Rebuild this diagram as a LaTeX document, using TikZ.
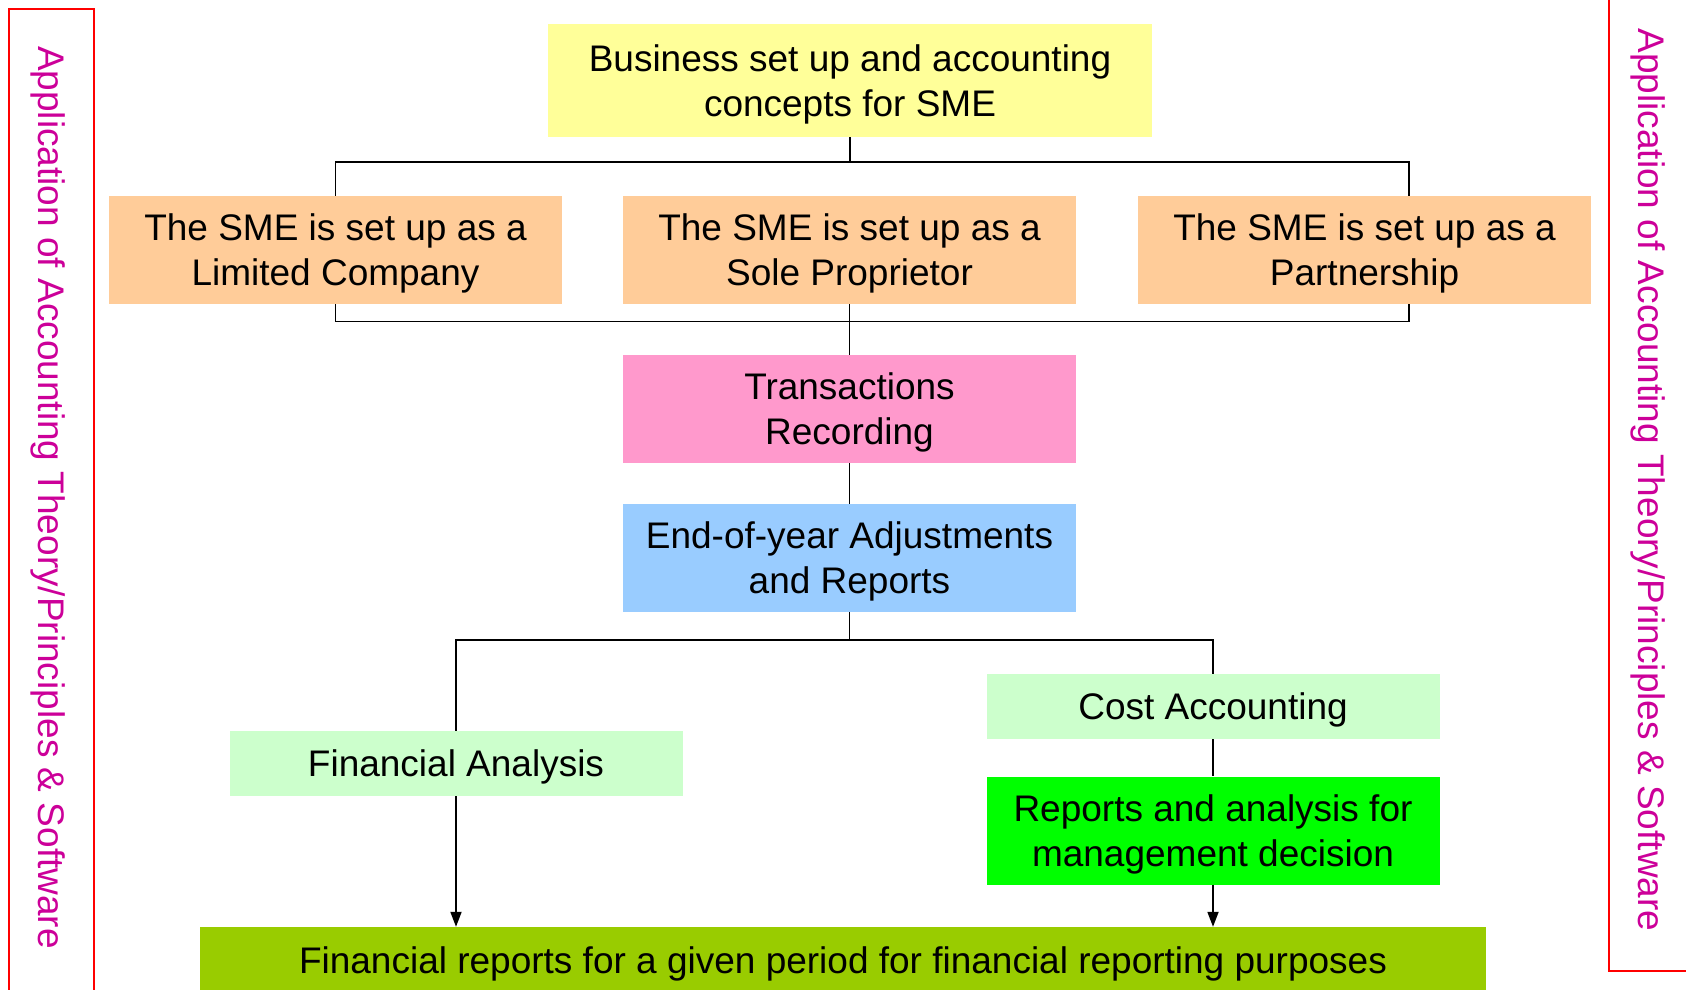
\documentclass[tikz,border=0pt]{standalone}
\usepackage{fontspec}
\setmainfont{Liberation Sans}
\usetikzlibrary{arrows.meta}
\definecolor{boxyellow}{HTML}{FFFF99}
\definecolor{boxorange}{HTML}{FFCC99}
\definecolor{boxpink}{HTML}{FF99CC}
\definecolor{boxblue}{HTML}{99CCFF}
\definecolor{boxpale}{HTML}{CCFFCC}
\definecolor{boxgreen}{HTML}{00FF00}
\definecolor{boxolive}{HTML}{99CC00}
\definecolor{sidetext}{HTML}{CC0099}

\begin{document}
\begin{tikzpicture}[x=1pt,y=-1pt,
		box/.style={inner sep=0pt,align=center,minimum width=453pt,minimum height=108pt,font=\fontsize{37}{45}\selectfont,execute at begin node={\rule{0pt}{34pt}}},
		twoline/.style={box,execute at begin node={\rule{0pt}{79pt}}},
		thinbox/.style={box,minimum height=65pt},
		link/.style={line width=1.8pt},
		arrowlink/.style={link,-{Triangle[length=15pt,width=11pt]}},
		side/.style={text=sidetext,font=\fontsize{37}{45}\selectfont,rotate=-90,inner sep=0pt},
		frame/.style={draw=red,line width=2.5pt}]
				\useasboundingbox (0,0) rectangle (1686,989);
				
				\node[twoline,fill=boxyellow,minimum width=604pt,minimum height=113pt] (concepts) at (850,80.5) {Business set up and accounting\\concepts for SME};
				\node[twoline,fill=boxorange] (limited) at (335.5,250) {The SME is set up as a\\Limited Company};
				\node[twoline,fill=boxorange] (sole) at (849.5,250) {The SME is set up as a\\Sole Proprietor};
				\node[twoline,fill=boxorange] (partner) at (1364.5,250) {The SME is set up as a\\Partnership};
				\node[twoline,fill=boxpink] (records) at (849.5,409) {Transactions\\Recording};
				\node[twoline,fill=boxblue] (yearend) at (849.5,558) {End-of-year Adjustments\\and Reports};
				\node[thinbox,fill=boxpale] (finanal) at (456,763.5) {Financial Analysis};
				\node[thinbox,fill=boxpale] (costacc) at (1213,706.5) {Cost Accounting};
				\node[twoline,fill=boxgreen] (mgmt) at (1213,830.5) {Reports and analysis for\\management decision};
				\node[thinbox,fill=boxolive,minimum width=1286pt,minimum height=66pt] (finrep) at (843,960) {Financial reports for a given period for financial reporting purposes};
				
				\coordinate (topbar) at (850,162);
				\coordinate (topright) at (1409,162);
				\coordinate (lowbar) at (849.5,321.5);
				\coordinate (lowright) at (1409,321.5);
				\coordinate (split) at (848,640);
				
				\draw[link] (concepts.south) -- (topbar);
				\draw[link] (limited.north) -- (limited.north |- topbar) -- (topright) -- (topright |- partner.north);
				\draw[link] (limited.south) -- (limited.south |- lowbar) -- (lowright) -- (lowright |- partner.south);
				\draw[link] (sole.south) -- (records.north);
				\draw[link] (records.south) -- (yearend.north);
				\draw[link] (yearend.south) -- (yearend.south |- split);
				\draw[link] (finanal.north) -- (finanal.north |- split) -- (costacc.north |- split) -- (costacc.north);
				\draw[arrowlink] (finanal.south) -- (finanal.south |- finrep.north);
				\draw[link] (costacc.south) -- (mgmt.north);
				\draw[arrowlink] (mgmt.south) -- (mgmt.south |- finrep.north);
				
				\node[side] (leftnote) at (48,497.5) {Application of Accounting Theory/Principles \& Software};
				\node[side] (rightnote) at (1648,480) {Application of Accounting Theory/Principles \& Software};
				\draw[frame] (9,1000) -- (9,9) -- (94,9) -- (94,1000);
				\draw[frame] (1609,-10) -- (1609,971) -- (1700,971);
			\end{tikzpicture}
\end{document}
